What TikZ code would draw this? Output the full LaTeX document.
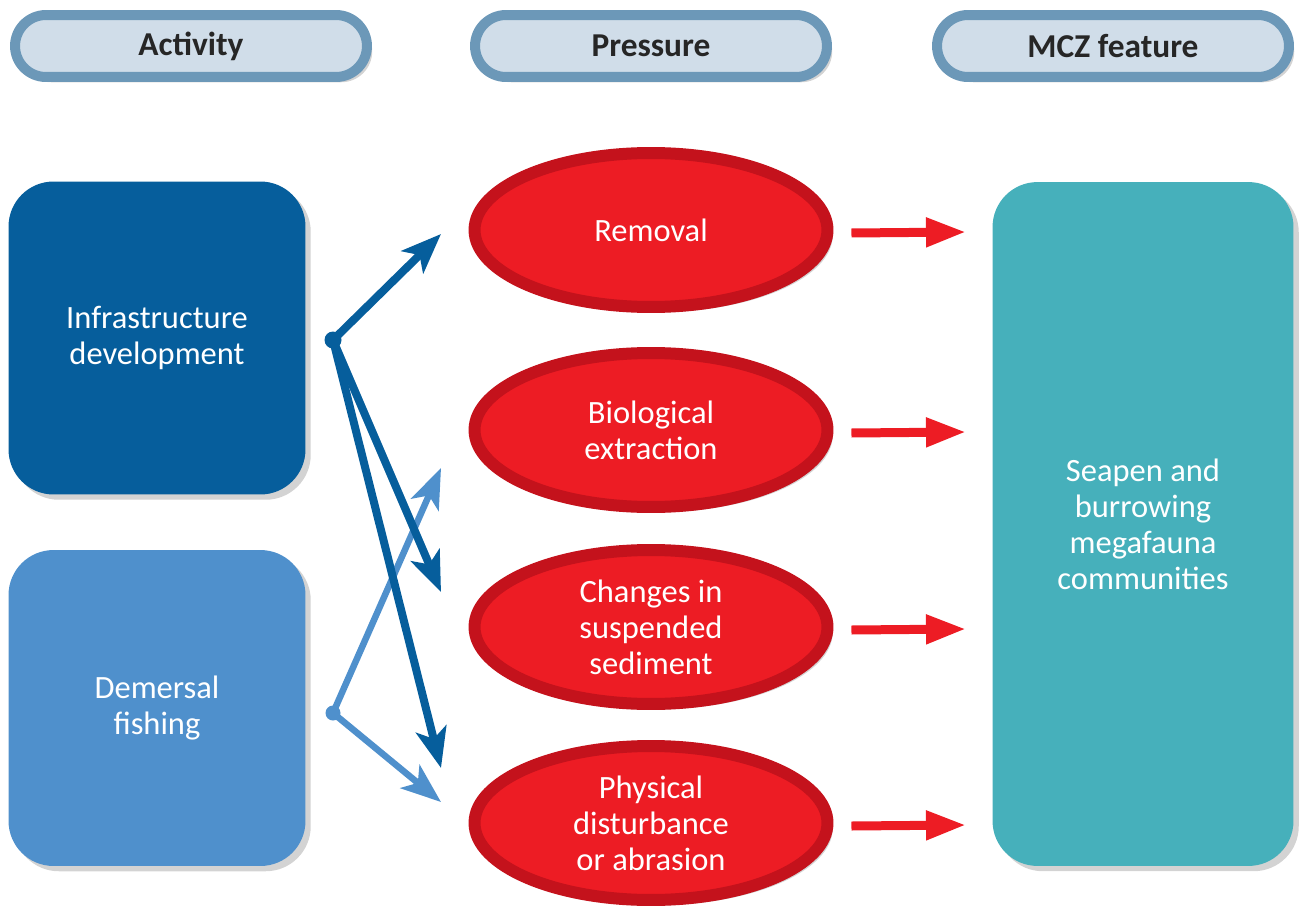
\documentclass[tikz,border=0pt]{standalone}
\usepackage{fontspec}
\setmainfont{Carlito}
\usepackage{tikz}
\usetikzlibrary{arrows.meta, shapes.geometric, shadows, positioning, calc}
\definecolor{pillfill}{RGB}{208, 221, 233}
\definecolor{pillline}{RGB}{108, 152, 184}
\definecolor{infrablue}{RGB}{6, 94, 156}
\definecolor{fishblue}{RGB}{79, 144, 204}
\definecolor{pressred}{RGB}{237, 28, 36}
\definecolor{pressdark}{RGB}{196, 18, 28}
\definecolor{mczteal}{RGB}{70, 176, 187}

\begin{document}
\begin{tikzpicture}[x=0.02cm, y=-0.02cm,
    every node/.style={font=\fontsize{18.5}{20.5}\selectfont},
    pill/.style={draw=pillline, fill=pillfill, line width=0.2cm,
      rounded corners=0.62cm, minimum width=7.04cm, minimum height=1.24cm,
      font=\fontsize{19}{20}\selectfont\bfseries, text=black!85,
      drop shadow={shadow xshift=3pt, shadow yshift=-3pt, opacity=0.35}},
    actbox/.style={rounded corners=0.9cm, minimum width=5.94cm, text=white,
      align=center, drop shadow={shadow xshift=3pt, shadow yshift=-3pt, opacity=0.35}},
    pressure/.style={ellipse, draw=pressdark, fill=pressred, line width=0.24cm,
      minimum width=7.06cm, minimum height=3.08cm, inner sep=0pt, text=white,
      align=center, drop shadow={shadow xshift=3pt, shadow yshift=-3pt, opacity=0.35}},
    redarrow/.style={pressred, line width=0.18cm,
      -{Triangle[length=0.8cm, width=0.55cm]}},
    darkarrow/.style={infrablue, line width=0.16cm,
      -{Stealth[length=0.8cm, width=0.62cm, inset=0.2cm]}},
    lightarrow/.style={fishblue, line width=0.13cm,
      -{Stealth[length=0.8cm, width=0.6cm, inset=0.2cm]}}]
  \useasboundingbox (0,0) rectangle (1304,912);

  % column headers
  \node[pill] (hact) at (191,46) {Activity};
  \node[pill] (hpress) at (651,46) {Pressure};
  \node[pill] (hmcz) at (1113,46) {MCZ feature};

  % activities
  \node[actbox, fill=infrablue, minimum height=6.26cm] (infra) at (157,338)
    {Infrastructure\\development};
  \node[actbox, fill=fishblue, minimum height=6.32cm] (fish) at (157,708)
    {Demersal\\fishing};

  % pressures and links to the feature
  \node[actbox, fill=mczteal, minimum width=6.02cm, minimum height=13.68cm] (mcz)
    at (1143,524) {Seapen and\\burrowing\\megafauna\\communities};
  \foreach \i/\y/\desc in {
      1/230/{Removal},
      2/430/{Biological\\extraction},
      3/627/{Changes in\\suspended\\sediment},
      4/823/{Physical\\disturbance\\or abrasion}}{
    \node[pressure] (p\i) at (651,\y) {\desc};
    \coordinate (t\i) at (966,{\y+2});
    \draw[redarrow] (p\i.east) ++(18,3) -- (t\i);
  }

  % activity to pressure links
  \coordinate (jinfra) at (333,340);
  \coordinate (jfish) at (333,713);
  \coordinate (ia) at (441,234);
  \coordinate (ib) at (441,592);
  \coordinate (ic) at (441,768);
  \coordinate (fa) at (441,468);
  \coordinate (fb) at (441,802);
  \draw[lightarrow] (jfish) -- (fa);
  \draw[lightarrow] (jfish) -- (fb);
  \fill[fishblue] (jfish) circle (0.15cm);
  \draw[darkarrow] (jinfra) -- (ia);
  \draw[darkarrow] (jinfra) -- (ib);
  \draw[darkarrow] (jinfra) -- (ic);
  \fill[infrablue] (jinfra) circle (0.17cm);
\end{tikzpicture}
\end{document}
